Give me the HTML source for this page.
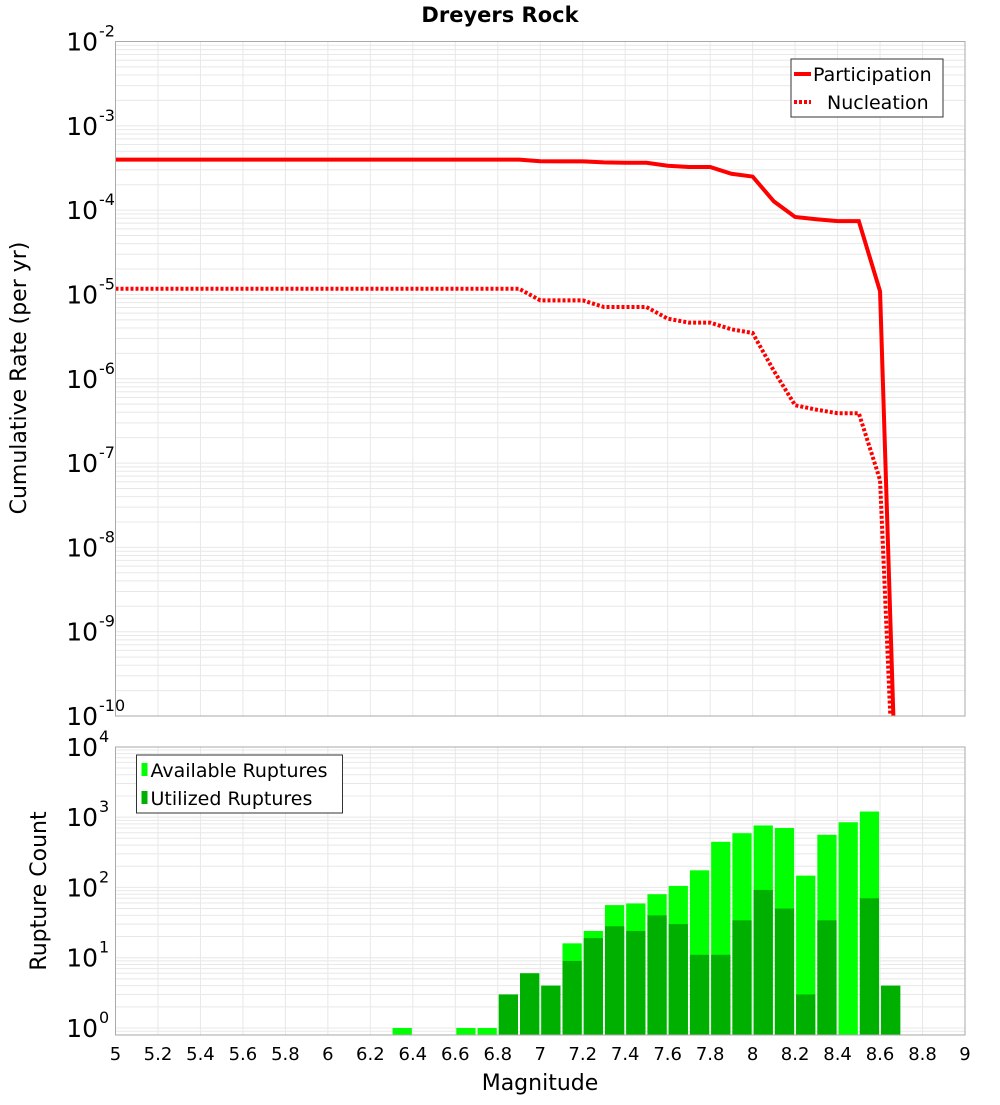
<!DOCTYPE html>
<html><head><meta charset="utf-8"><style>
body{margin:0;background:#fff;}
svg text{font-family:"DejaVu Sans","Liberation Sans",sans-serif;}
</style></head><body>
<svg id="chart" width="1000" height="1100" xmlns="http://www.w3.org/2000/svg">
<text x="500" y="22" text-anchor="middle" font-size="21" font-weight="bold">Dreyers Rock</text>
<g id="gtop"></g><g id="gbot"></g>
<text transform="translate(26,378) rotate(-90)" text-anchor="middle" font-size="22">Cumulative Rate (per yr)</text>
<text transform="translate(46,891) rotate(-90)" text-anchor="middle" font-size="22">Rupture Count</text>
<text x="540" y="1090" text-anchor="middle" font-size="22">Magnitude</text>
</svg>
<script>
const mags = [5.0,5.1,5.2,5.3,5.4,5.5,5.6,5.7,5.8,5.9,6.0,6.1,6.2,6.3,6.4,6.5,6.6,6.7,6.8,6.9,7.0,7.1,7.2,7.3,7.4,7.5,7.6,7.7,7.8,7.9,8.0,8.1,8.2,8.3,8.4,8.5,8.6,8.7];
const participation = [3.97e-4,3.97e-4,3.97e-4,3.97e-4,3.97e-4,3.97e-4,3.97e-4,3.97e-4,3.97e-4,3.97e-4,3.97e-4,3.97e-4,3.97e-4,3.97e-4,3.97e-4,3.97e-4,3.97e-4,3.97e-4,3.97e-4,3.97e-4,3.8e-4,3.78e-4,3.78e-4,3.68e-4,3.65e-4,3.65e-4,3.36e-4,3.25e-4,3.25e-4,2.7e-4,2.5e-4,1.27e-4,8.3e-5,7.8e-5,7.4e-5,7.4e-5,1.09e-5,1e-13];
const nucleation = [1.17e-5,1.17e-5,1.17e-5,1.17e-5,1.17e-5,1.17e-5,1.17e-5,1.17e-5,1.17e-5,1.17e-5,1.17e-5,1.17e-5,1.17e-5,1.17e-5,1.17e-5,1.17e-5,1.17e-5,1.17e-5,1.17e-5,1.17e-5,8.5e-6,8.5e-6,8.5e-6,7.1e-6,7.1e-6,7.1e-6,5.16e-6,4.63e-6,4.63e-6,3.86e-6,3.49e-6,1.24e-6,4.85e-7,4.3e-7,3.9e-7,3.9e-7,6.3e-8,1e-13];
const binCenters = [6.35,6.65,6.75,6.85,6.95,7.05,7.15,7.25,7.35,7.45,7.55,7.65,7.75,7.85,7.95,8.05,8.15,8.25,8.35,8.45,8.55,8.65];
const available = [1,1,1,3,6,4,16,24,56,59,80,105,175,445,590,760,700,147,560,845,1200,4];
const utilized = [0,0,0,3,6,4,9,19,28,24,40,30,11,11,34,92,50,3,34,0,70,4];
const xTicks = [5,5.2,5.4,5.6,5.8,6,6.2,6.4,6.6,6.8,7,7.2,7.4,7.6,7.8,8,8.2,8.4,8.6,8.8,9];
const topExps = [-2,-3,-4,-5,-6,-7,-8,-9,-10];
const botExps = [4,3,2,1,0];

const NS="http://www.w3.org/2000/svg";
const L=115.5,R=965;
const xs=m=>L+(m-5)*(R-L)/4;
const T1=41.5,B1=716;
const yTop=v=>T1+(-2-Math.log10(v))*(B1-T1)/8;
const T2=747,B2=1035;
const yBot=v=>1028-70.3*Math.log10(v);
function mk(parent,tag,attrs){const e=document.createElementNS(NS,tag);for(const k in attrs)e.setAttribute(k,attrs[k]);parent.appendChild(e);return e;}
const gTop=document.getElementById('gtop'),gBot=document.getElementById('gbot');

function grid(g,T,B,yf,lo,hi){
  for(let e=lo;e<hi;e++)for(let k=1;k<10;k++){const yy=yf(k*Math.pow(10,e));if(yy<T-0.5||yy>B+0.5)continue;
    const l=mk(g,'line',{x1:L,x2:R,y1:yy,y2:yy,stroke:'#e8e8e8','stroke-width':1});
    
    }
  xTicks.forEach(t=>{const l=mk(g,'line',{x1:xs(t),x2:xs(t),y1:T,y2:B,stroke:'#e8e8e8','stroke-width':1});
    
    });
}
grid(gTop,T1,B1,yTop,-10,-2);
grid(gBot,T2,B2,yBot,-1,4);

function ylabels(g,exps,yf,nm){exps.forEach(e=>{const yy=yf(Math.pow(10,e));
  const t=mk(g,'text',{x:98,y:yy+9,'text-anchor':'end','font-size':25});
  
  
  t.textContent='10';
  const s=mk(g,'text',{x:99,y:yy-5,'text-anchor':'start','font-size':16});
  
  
  s.textContent=String(e);});}
ylabels(gTop,topExps,yTop,'top-y-tick-label');
ylabels(gBot,botExps,yBot,'bottom-y-tick-label');

const cp=mk(gTop,'clipPath',{id:'c1'});mk(cp,'rect',{x:L,y:T1,width:R-L,height:B1-T1});
function line(vals,dash,nm){const p=mk(gTop,'polyline',{points:mags.map((m,i)=>xs(m)+','+yTop(vals[i])).join(' '),fill:'none',stroke:'#ff0000','stroke-width':4,'clip-path':'url(#c1)'});
  if(dash)p.setAttribute('stroke-dasharray','3,2');
  
  }
line(participation,false,'participation-line');
line(nucleation,true,'nucleation-line');
const f1=mk(gTop,'rect',{x:L,y:T1,width:R-L,height:B1-T1,fill:'none',stroke:'#aaa','stroke-width':1});



const bw=(R-L)/40;
binCenters.forEach((c,i)=>{
  const x0=xs(c)-bw/2+1, w=bw-2;
  if(available[i]>0){const r=mk(gBot,'rect',{x:x0,y:yBot(available[i]),width:w,height:B2-yBot(available[i]),fill:'#00ff00'});
    
    }
  if(utilized[i]>0){const r=mk(gBot,'rect',{x:x0,y:yBot(utilized[i]),width:w,height:B2-yBot(utilized[i]),fill:'#00b000'});
    
    }
});
const f2=mk(gBot,'rect',{x:L,y:T2,width:R-L,height:B2-T2,fill:'none',stroke:'#aaa','stroke-width':1});


xTicks.forEach(t=>{const tx=mk(gBot,'text',{x:xs(t),y:1060,'text-anchor':'middle','font-size':18});
  
  
  tx.textContent=String(t);});

function legend(g,bx,by,bwid,items,nm){
  const r=mk(g,'rect',{x:bx,y:by,width:bwid,height:58,fill:'#fff',stroke:'#333','stroke-width':1});
  
  
  items.forEach((it,i)=>{const yy=by+15+i*28;
    if(it.type==='line'){const l=mk(g,'line',{x1:bx+3,x2:bx+20,y1:yy,y2:yy,stroke:'#ff0000','stroke-width':4});if(it.dash)l.setAttribute('stroke-dasharray','3,2');
      
      }
    else{const s=mk(g,'rect',{x:bx+5,y:yy-7,width:6,height:13,fill:it.color});
      
      }
    const t=mk(g,'text',{x:bx+it.tx,y:yy+7,'font-size':19});
    
    
    t.textContent=it.label;});
}
legend(gTop,791,59,152,[{type:'line',dash:false,label:'Participation',tx:22},{type:'line',dash:true,label:'Nucleation',tx:36}],'top-legend');
legend(gBot,136.5,755,206,[{type:'rect',color:'#00ff00',label:'Available Ruptures',tx:14},{type:'rect',color:'#00b000',label:'Utilized Ruptures',tx:14}],'bottom-legend');
</script>
</body></html>
